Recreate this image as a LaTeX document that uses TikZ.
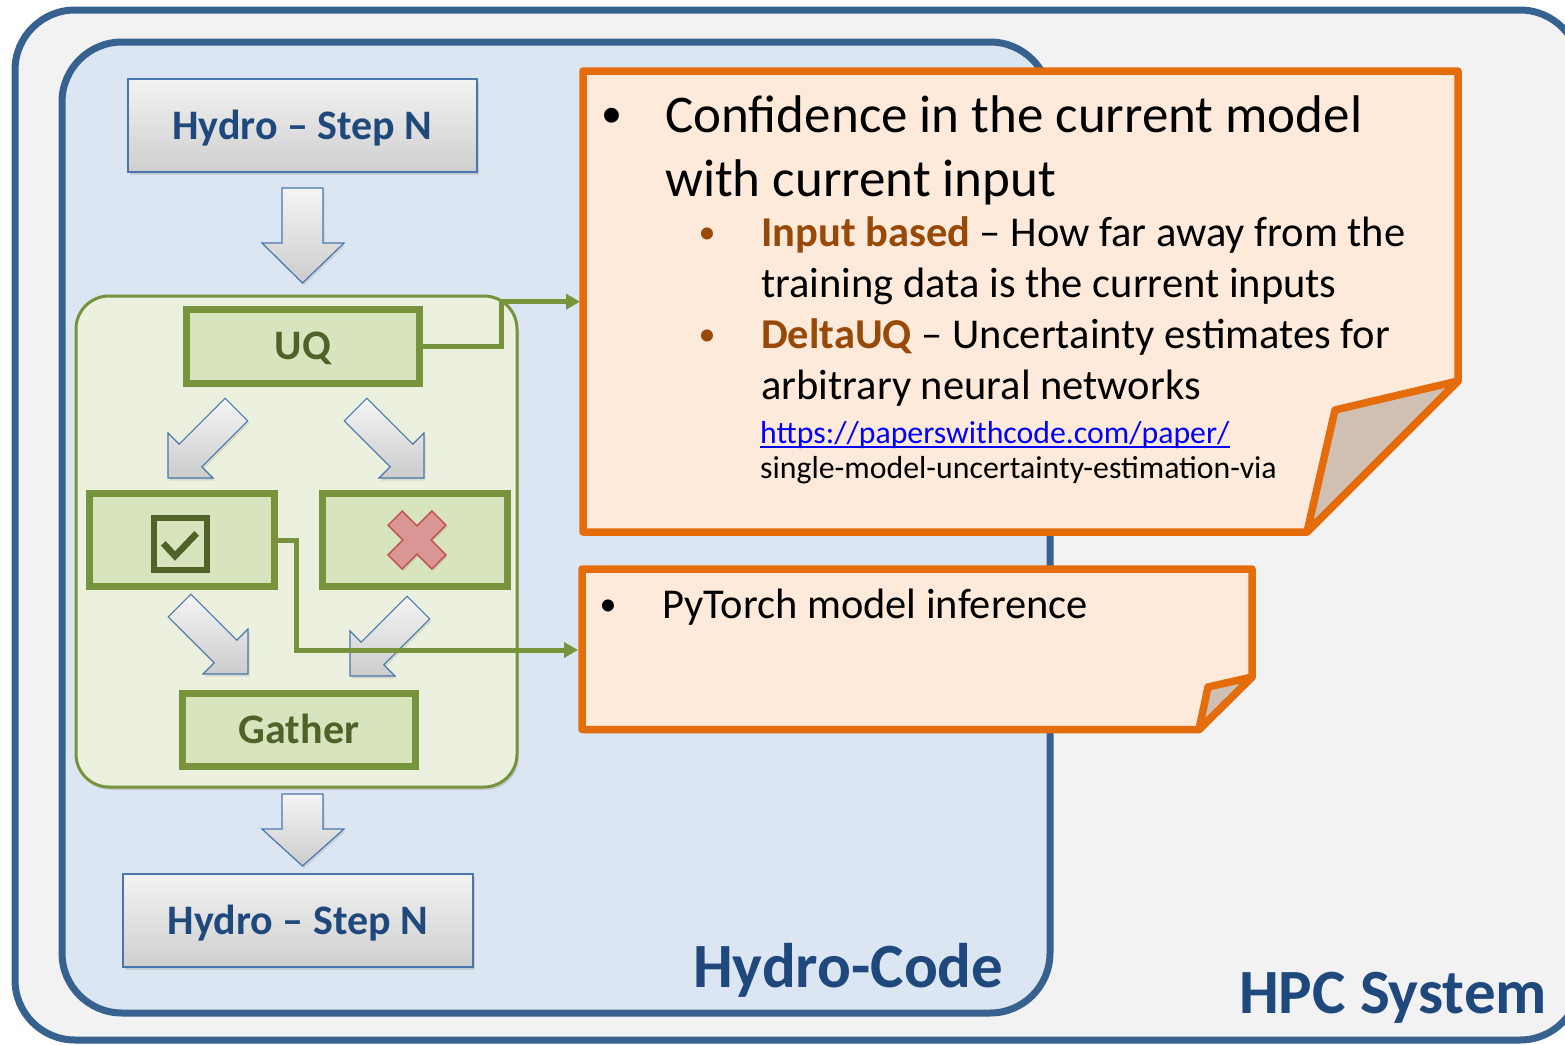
\documentclass[tikz,border=0pt]{standalone}
\usepackage{fontspec}
\setmainfont{Carlito}
\usetikzlibrary{shadows,arrows.meta,calc}

\definecolor{hpcfill}{HTML}{F2F2F2}
\definecolor{hydrofill}{HTML}{DCE6F2}
\definecolor{bluebd}{HTML}{37618F}
\definecolor{titleblue}{HTML}{1F497D}
\definecolor{arrowbd}{HTML}{4A76AE}
\definecolor{greenbd}{HTML}{77933C}
\definecolor{greenfill}{HTML}{D7E4BD}
\definecolor{greenbg}{HTML}{EBF1DE}
\definecolor{greentext}{HTML}{4F6228}
\definecolor{noteorange}{HTML}{E46C0A}
\definecolor{notefill}{HTML}{FDEADA}
\definecolor{flapfill}{HTML}{CFC0B3}
\definecolor{brownhi}{HTML}{984807}
\definecolor{xfill}{HTML}{D99694}
\definecolor{xbd}{HTML}{C0504D}
\definecolor{linkblue}{HTML}{0000FF}

% block arrow outline: tip at the origin, pointing down (y grows downward)
\newcommand{\diagarrowpath}{(0,0) -- (31.8,-31.8) -- (16,-31.8) -- (16,-96.8) -- (-16,-96.8)
    -- (-16,-31.8) -- (-31.8,-31.8) -- cycle}

\begin{document}
\begin{tikzpicture}[x=1pt,y=-1pt,
  softshadow/.style={drop shadow={opacity=0.25,shadow xshift=2pt,shadow yshift=-3pt}},
  hpcframe/.style={draw=bluebd,line width=7pt,rounded corners=60pt,softshadow},
  hydrobox/.style={draw=arrowbd,line width=1.5pt,top color=gray!10,bottom color=gray!38,
    minimum width=349pt,minimum height=93pt,inner sep=0pt,text height=27pt,text depth=0pt,
    font=\fontsize{42}{50}\selectfont\bfseries,text=titleblue,softshadow},
  greenbox/.style={draw=greenbd,line width=7pt,fill=greenfill,inner sep=0pt,
    text height=27pt,text depth=0pt,font=\fontsize{42}{50}\selectfont\bfseries,
    text=greentext,softshadow},
  barrow/.style={draw=arrowbd,line width=1.2pt,top color=gray!8,bottom color=gray!40,
    drop shadow={opacity=0.2,shadow xshift=1.5pt,shadow yshift=-2.5pt}},
  notebody/.style={draw=noteorange,line width=7.5pt,fill=notefill,line join=round,softshadow},
  noteflap/.style={draw=noteorange,line width=7.5pt,fill=flapfill,line join=round},
  conn/.style={draw=greenbd,line width=5pt,-{Triangle[length=14pt,width=15pt]}},
  txt/.style={inner sep=0pt,anchor=base west},
  bigtxt/.style={txt,font=\fontsize{53}{64}\selectfont},
  midtxt/.style={txt,font=\fontsize{42.5}{50}\selectfont},
  smalltxt/.style={txt,font=\fontsize{31.8}{38}\selectfont},
  dot/.style={inner sep=0pt,anchor=base}
]
\useasboundingbox (0,0) rectangle (1565,1044);

% system and code frames
\draw[hpcframe,fill=hpcfill] (15,10) rectangle (1580,1040);
\draw[hpcframe,fill=hydrofill] (62,42) rectangle (1050,1013);

% green UQ container
\draw[draw=greenbd,line width=3pt,fill=greenbg,rounded corners=33pt,softshadow]
  (76,296) rectangle (517,787);

% hydro step boxes
\node[hydrobox] (stepA) at (302.5,125.5) {Hydro – Step N};
\node[hydrobox,minimum width=350pt] (stepB) at (298,920.5) {Hydro – Step N};

% vertical block arrows
\path[barrow] (282,188) -- (323,188) -- (323,243) -- (344,243) -- (302.5,283)
  -- (262,243) -- (282,243) -- cycle;
\path[barrow] (282,794) -- (323,794) -- (323,829) -- (344,829) -- (302.5,866)
  -- (262,829) -- (282,829) -- cycle;

% diagonal block arrows
\begin{scope}[shift={(168,478)},rotate=-45] \path[barrow] \diagarrowpath; \end{scope}
\begin{scope}[shift={(424,478)},rotate=45] \path[barrow] \diagarrowpath; \end{scope}
\begin{scope}[shift={(248,674)},rotate=45] \path[barrow] \diagarrowpath; \end{scope}
\begin{scope}[shift={(350,676)},rotate=-45] \path[barrow] \diagarrowpath; \end{scope}

% UQ flow boxes
\node[greenbox,minimum width=233pt,minimum height=74pt] (uq) at (303,346) {UQ};
\node[greenbox,minimum width=185pt,minimum height=93pt] (chk) at (181.5,540) {};
\node[greenbox,minimum width=185pt,minimum height=93pt] (rej) at (414.5,540) {};
\node[greenbox,minimum width=232.5pt,minimum height=72.7pt] (gather) at (299,730.3) {Gather};

% check mark
\draw[greentext,line width=6pt] (153.5,518) rectangle (206.5,570);
\draw[greentext,line width=6.5pt,line join=miter] (163.3,543.3) -- (175,556) -- (196.7,533.3);

% cross mark
\begin{scope}[shift={(417,540)},rotate=45]
  \path[fill=xfill,draw=xbd,line width=1.3pt,drop shadow={opacity=0.2,shadow xshift=1.5pt,shadow yshift=-2pt}]
    (10,10) -- (31,10) -- (31,-10) -- (10,-10) -- (10,-31) -- (-10,-31) -- (-10,-10)
    -- (-31,-10) -- (-31,10) -- (-10,10) -- (-10,31) -- (10,31) -- cycle;
\end{scope}

% callout notes
\draw[notebody] (583,71) -- (1458,71) -- (1458,381) -- (1307,532) -- (583,532) -- cycle;
\draw[noteflap] (1458,381) -- (1335,410) -- (1307,532) -- cycle;
\draw[notebody] (582,569) -- (1252,569) -- (1252,677) -- (1199,729.5) -- (582,729.5) -- cycle;
\draw[noteflap] (1252,677) -- (1208,687) -- (1199,729.5) -- cycle;
\coordinate (note1w) at (580,301.7);
\coordinate (note2w) at (578,650);

% connectors
\draw[conn] (uq.east) -| (501.7,301.7) -- (note1w);
\draw[conn] (chk.east) -| (296.7,650) -- (note2w);

% note 1 text
\node[bigtxt,dot,font=\fontsize{42}{50}\selectfont] (b1) at (612,127) {•};
\node[bigtxt] (l1) at (665,132) {Confidence in the current model};
\node[bigtxt] (l2) at (665,196) {with current input};
\node[midtxt,dot,text=brownhi,font=\fontsize{34}{40}\selectfont] (b2) at (707,243) {•};
\node[midtxt] (l3) at (761,246) {\textbf{\textcolor{brownhi}{Input based}} – How far away from the};
\node[midtxt] (l4) at (761,297) {training data is the current inputs};
\node[midtxt,dot,text=brownhi,font=\fontsize{34}{40}\selectfont] (b3) at (707,345) {•};
\node[midtxt] (l5) at (761,348) {\textbf{\textcolor{brownhi}{DeltaUQ}} – Uncertainty estimates for};
\node[midtxt] (l6) at (761,399) {arbitrary neural networks};
\node[smalltxt,text=linkblue] (link) at (760,443) {https://paperswithcode.com/paper/};
\draw[linkblue,line width=1.8pt] ($(link.base west)+(0,4)$) -- ($(link.base east)+(0,4)$);
\node[smalltxt] (l7) at (760,478) {single-model-uncertainty-estimation-via};

% note 2 text
\node[midtxt,dot,font=\fontsize{34}{40}\selectfont] (b4) at (608,615) {•};
\node[midtxt] (l8) at (662,618) {PyTorch model inference};

% frame labels
\node[txt,font=\fontsize{63}{70}\selectfont\bfseries,text=titleblue] (hydrolbl) at (693,987) {Hydro-Code};
\node[txt,font=\fontsize{63}{70}\selectfont\bfseries,text=titleblue] (hpclbl) at (1239,1013) {HPC System};
\end{tikzpicture}
\end{document}
